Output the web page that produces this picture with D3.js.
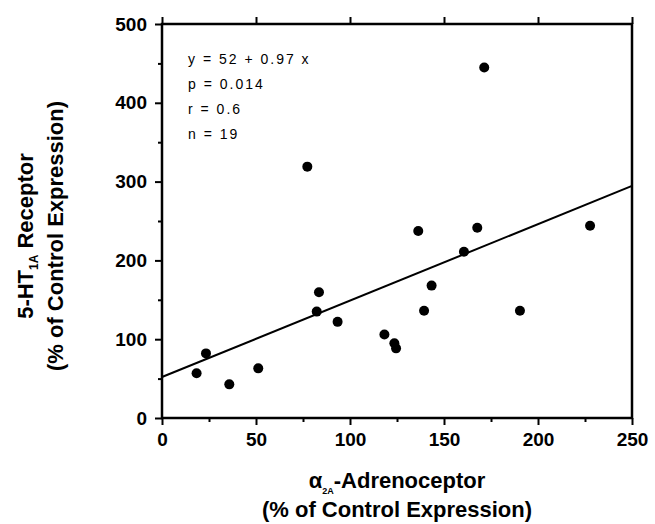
<!DOCTYPE html>
<html>
<head>
<meta charset="utf-8">
<script src="https://cdn.jsdelivr.net/npm/d3@7"></script>
<style>
  body { margin: 0; background: #fff; }
  svg { display: block; font-family: "Liberation Sans", Arial, sans-serif; }
</style>
</head>
<body>
<svg id="chart"></svg>
<script>
// alpha2A-adrenoceptor vs 5-HT1A receptor expression (% of control)
const alphaValues = [18.4, 23.4, 35.8, 51.2, 77.3, 82.3, 83.5, 93.4, 118.3, 123.6, 124.5, 136.3, 139.4, 143.4, 160.6, 167.7, 171.4, 190.4, 227.7];
const htValues = [56.7, 82, 42.7, 63, 319, 135, 159.5, 122, 106, 94.8, 88.4, 237.3, 136, 168, 211, 241.5, 444.8, 136, 244];
const fitIntercept = 52;
const fitSlope = 0.97;
const statsLines = ["y = 52 + 0.97 x", "p = 0.014", "r = 0.6", "n = 19"];
const xTicks = [0, 50, 100, 150, 200, 250];
const xMinorTicks = [25, 75, 125, 175, 225];
const yTicks = [0, 100, 200, 300, 400, 500];
const yMinorTicks = [50, 150, 250, 350, 450];

const width = 655;
const height = 524;
const margin = { top: 24, right: 23, bottom: 106, left: 162 };

const svg = d3.select("#chart").attr("width", width).attr("height", height);

const x = d3.scaleLinear().domain([0, 250]).range([margin.left, width - margin.right]);
const y = d3.scaleLinear().domain([0, 500]).range([height - margin.bottom, margin.top]);

const points = alphaValues.map((v, i) => [v, htValues[i]]);

// ticks
const styleAxis = (g) => {
  g.select(".domain").remove();
  g.selectAll(".tick line").attr("stroke", "#000").attr("stroke-width", 2);
  g.selectAll(".tick text")
    .attr("fill", "#000")
    .attr("font-size", 19)
    .attr("font-weight", "bold");
};

svg.append("g")
  .attr("transform", `translate(0,${y(0)})`)
  .call(d3.axisBottom(x).tickValues(xTicks).tickSize(7).tickPadding(8).tickFormat(d3.format("d")))
  .call(styleAxis);

svg.append("g")
  .attr("transform", `translate(0,${y(0)})`)
  .call(d3.axisBottom(x).tickValues(xMinorTicks).tickSize(4).tickFormat(""))
  .call(styleAxis);

svg.append("g")
  .attr("transform", `translate(0,${y(500)})`)
  .call(d3.axisTop(x).tickValues(xTicks).tickSize(7).tickFormat(""))
  .call(styleAxis);

svg.append("g")
  .attr("transform", `translate(${x(0)},0)`)
  .call(d3.axisLeft(y).tickValues(yTicks).tickSize(7).tickPadding(8).tickFormat(d3.format("d")))
  .call(styleAxis);

svg.append("g")
  .attr("transform", `translate(${x(0)},0)`)
  .call(d3.axisLeft(y).tickValues(yMinorTicks).tickSize(4).tickFormat(""))
  .call(styleAxis);

// frame
svg.append("rect")
  .attr("x", x(0))
  .attr("y", y(500))
  .attr("width", x(250) - x(0))
  .attr("height", y(0) - y(500))
  .attr("fill", "none")
  .attr("stroke", "#000")
  .attr("stroke-width", 2.5);

// regression line
const line = d3.line()
  .x((d) => x(d))
  .y((d) => y(fitIntercept + fitSlope * d));

svg.append("path")
  .datum(x.domain())
  .attr("fill", "none")
  .attr("stroke", "#000")
  .attr("stroke-width", 2)
  .attr("d", line);

svg.append("g")
  .selectAll("circle")
  .data(points)
  .join("circle")
  .attr("cx", (d) => x(d[0]))
  .attr("cy", (d) => y(d[1]))
  .attr("r", 5)
  .attr("fill", "#000");

// stats text
svg.append("g")
  .selectAll("text")
  .data(statsLines)
  .join("text")
  .attr("x", 188)
  .attr("y", (d, i) => 64 + i * 25)
  .attr("font-size", 14)
  .attr("letter-spacing", 2)
  .attr("fill", "#000")
  .text((d) => d);

// x title
const xTitle = svg.append("text")
  .attr("text-anchor", "middle")
  .attr("font-weight", "bold")
  .attr("font-size", 22)
  .attr("fill", "#000");
const xl1 = xTitle.append("tspan").attr("x", (x(0) + x(250)) / 2).attr("y", 488);
xl1.append("tspan").text("α");
xl1.append("tspan").attr("font-size", 9).attr("dy", 6).text("2A");
xl1.append("tspan").attr("dy", -6).text("-Adrenoceptor");
xTitle.append("tspan").attr("x", (x(0) + x(250)) / 2).attr("y", 517).text("(% of Control Expression)");

// y title
const yc = 236;
const yTitle = svg.append("text")
  .attr("transform", "rotate(-90)")
  .attr("text-anchor", "middle")
  .attr("font-weight", "bold")
  .attr("font-size", 22)
  .attr("fill", "#000");
const yl1 = yTitle.append("tspan").attr("x", -yc).attr("y", 33);
yl1.append("tspan").text("5-HT");
yl1.append("tspan").attr("font-size", 12).attr("dy", 5).text("1A");
yl1.append("tspan").attr("dy", -5).text(" Receptor");
yTitle.append("tspan").attr("x", -yc).attr("y", 63).text("(% of Control Expression)");
</script>
</body>
</html>
